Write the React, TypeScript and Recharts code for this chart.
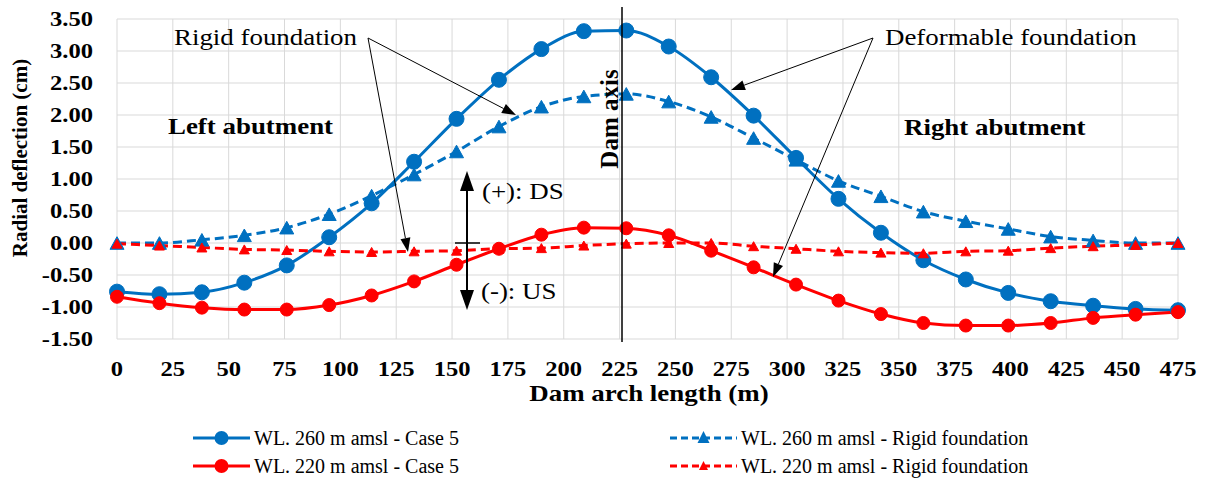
import React from "react";
import { LineChart, Line, XAxis, YAxis, CartesianGrid } from "recharts";

// arch length stations (m)
const ARCH_LENGTH = [0, 19, 38, 57, 76, 95, 114, 133, 152, 171, 190, 209, 228, 247, 266, 285, 304, 323, 342, 361, 380, 399, 418, 437, 456, 475];
// radial deflection (cm)
const WL260_CASE5 = [-0.76, -0.8, -0.77, -0.62, -0.35, 0.09, 0.62, 1.27, 1.94, 2.55, 3.03, 3.31, 3.32, 3.07, 2.59, 1.99, 1.33, 0.69, 0.16, -0.27, -0.57, -0.78, -0.91, -0.98, -1.03, -1.05];
const WL260_RIGID = [0.0, 0.0, 0.05, 0.12, 0.24, 0.45, 0.74, 1.07, 1.43, 1.82, 2.13, 2.29, 2.33, 2.21, 1.97, 1.64, 1.3, 0.97, 0.73, 0.49, 0.34, 0.22, 0.1, 0.04, 0.0, 0.0];
const WL220_CASE5 = [-0.84, -0.94, -1.01, -1.04, -1.04, -0.97, -0.82, -0.6, -0.34, -0.09, 0.13, 0.24, 0.23, 0.12, -0.12, -0.38, -0.65, -0.9, -1.11, -1.25, -1.29, -1.29, -1.25, -1.17, -1.12, -1.08];
const WL220_RIGID = [-0.01, -0.04, -0.07, -0.1, -0.11, -0.13, -0.14, -0.13, -0.12, -0.09, -0.08, -0.04, -0.01, 0.0, 0.0, -0.05, -0.09, -0.13, -0.15, -0.16, -0.13, -0.12, -0.08, -0.05, -0.03, 0.0];

const X_TICKS = [0, 25, 50, 75, 100, 125, 150, 175, 200, 225, 250, 275, 300, 325, 350, 375, 400, 425, 450, 475];
const Y_TICKS = [-1.5, -1.0, -0.5, 0.0, 0.5, 1.0, 1.5, 2.0, 2.5, 3.0, 3.5];

const SERIES_NAMES = [
  "WL. 260 m amsl - Case 5",
  "WL. 260 m amsl - Rigid foundation",
  "WL. 220 m amsl - Case 5",
  "WL. 220 m amsl - Rigid foundation",
];

const BLUE = "#0070C0";
const RED = "#FF0000";
const FONT = "'Liberation Serif', 'Times New Roman', serif";

const data = ARCH_LENGTH.map((x, i) => ({
  x,
  b5: WL260_CASE5[i],
  br: WL260_RIGID[i],
  r5: WL220_CASE5[i],
  rr: WL220_RIGID[i],
}));

const circleDot = (color: string, r: number) => (p: any) => (
  <circle key={`c-${color}-${p.index}`} cx={p.cx} cy={p.cy} r={r} fill={color} stroke={color} />
);

const triDot = (color: string, w: number) => (p: any) => {
  const h = w * 0.9;
  const pts = `${p.cx},${p.cy - h / 2} ${p.cx + w / 2},${p.cy + h / 2} ${p.cx - w / 2},${p.cy + h / 2}`;
  return <polygon key={`t-${color}-${p.index}`} points={pts} fill={color} stroke={color} strokeWidth={1} />;
};

const XTick = ({ x, y, payload }: any) => (
  <text x={x} y={y + 37} textAnchor="middle" className="sx" fontFamily={FONT} fontSize={21} fontWeight="bold" fill="#000">
    {payload.value}
  </text>
);

const YTick = ({ x, y, payload }: any) => (
  <text x={x - 24} y={y + 7} textAnchor="end" className="sxr" fontFamily={FONT} fontSize={21} fontWeight="bold" fill="#000">
    {Number(payload.value).toFixed(2)}
  </text>
);

// arrow line with filled head at (x2, y2)
function Arrow({ x1, y1, x2, y2, len = 14, half = 5, sw = 1 }: any) {
  const a = Math.atan2(y2 - y1, x2 - x1);
  const bx = x2 - len * Math.cos(a);
  const by = y2 - len * Math.sin(a);
  const px = -Math.sin(a) * half;
  const py = Math.cos(a) * half;
  return (
    <g>
      <line x1={x1} y1={y1} x2={bx} y2={by} stroke="#000" strokeWidth={sw} />
      <polygon points={`${x2},${y2} ${bx + px},${by + py} ${bx - px},${by - py}`} fill="#000" />
    </g>
  );
}

function LegendItem({ left, top, name, color, dashed, tri }: any) {
  const w = dashed ? 67 : 57;
  const big = tri === "big";
  return (
    <div style={{ position: "absolute", left, top: top - 14, height: 28, display: "flex", alignItems: "center", whiteSpace: "nowrap" }}>
      <svg width={w} height={28}>
        <line x1={0} y1={14} x2={w} y2={14} stroke={color} strokeWidth={3} strokeDasharray={dashed ? "7 4" : undefined} />
        {tri ? (
          <polygon points={`${w / 2},${big ? 7 : 9} ${w / 2 + (big ? 6 : 4.5)},${big ? 19 : 18} ${w / 2 - (big ? 6 : 4.5)},${big ? 19 : 18}`} fill={color} />
        ) : (
          <circle cx={w / 2} cy={14} r={7} fill={color} />
        )}
      </svg>
      <span style={{ fontFamily: FONT, fontSize: 20, lineHeight: "28px", marginLeft: 4, color: "#000" }}>{name}</span>
    </div>
  );
}

export default function App() {
  return (
    <div style={{ position: "absolute", left: 0, top: 0, width: 1206, height: 479, background: "#fff" }}>
      <style>{`
        .sx { transform-box: fill-box; transform-origin: 50% 50%; transform: scaleX(1.17); }
        .sxr { transform-box: fill-box; transform-origin: 100% 50%; transform: scaleX(1.17); }
        .sxl { transform-box: fill-box; transform-origin: 0% 50%; transform: scaleX(1.17); }
      `}</style>
      <LineChart width={1206} height={479} data={data} margin={{ top: 19, right: 28, left: 0, bottom: 0 }}>
        <CartesianGrid stroke="#D9D9D9" strokeWidth={1} />
        <XAxis
          type="number"
          dataKey="x"
          domain={[0, 475]}
          ticks={X_TICKS}
          height={140}
          axisLine={false}
          tickLine={false}
          tickSize={0}
          tickMargin={0}
          tick={<XTick />}
          interval={0}
        />
        <YAxis
          type="number"
          domain={[-1.5, 3.5]}
          ticks={Y_TICKS}
          width={117}
          axisLine={false}
          tickLine={false}
          tickSize={0}
          tickMargin={0}
          tick={<YTick />}
          interval={0}
        />
        <Line type="monotone" dataKey="b5" name={SERIES_NAMES[0]} stroke={BLUE} strokeWidth={3} dot={circleDot(BLUE, 7.5)} isAnimationActive={false} />
        <Line type="monotone" dataKey="br" name={SERIES_NAMES[1]} stroke={BLUE} strokeWidth={3} strokeDasharray="9 5" dot={triDot(BLUE, 14)} isAnimationActive={false} />
        <Line type="monotone" dataKey="r5" name={SERIES_NAMES[2]} stroke={RED} strokeWidth={3} dot={circleDot(RED, 6.5)} isAnimationActive={false} />
        <Line type="monotone" dataKey="rr" name={SERIES_NAMES[3]} stroke={RED} strokeWidth={3} strokeDasharray="9 5" dot={triDot(RED, 10)} isAnimationActive={false} />
      </LineChart>

      <svg width={1206} height={479} style={{ position: "absolute", left: 0, top: 0, pointerEvents: "none" }} fontFamily={FONT}>
        {/* axis titles */}
        <text transform="translate(27,158) rotate(-90)" textAnchor="middle" fontSize={21} fontWeight="bold">Radial deflection (cm)</text>
        <text x={649} y={401} textAnchor="middle" className="sx" fontSize={23} fontWeight="bold">Dam arch length (m)</text>

        {/* dam axis */}
        <line x1={622} y1={7} x2={622} y2={342} stroke="#000" strokeWidth={1.5} />
        <text transform="translate(618,119) rotate(-90)" textAnchor="middle" fontSize={25} fontWeight="bold">Dam axis</text>

        {/* abutments */}
        <text x={168} y={134} className="sxl" fontSize={23} fontWeight="bold">Left abutment</text>
        <text x={904} y={135} className="sxl" fontSize={23} fontWeight="bold">Right abutment</text>

        {/* callouts */}
        <text x={174} y={45} className="sxl" fontSize={23}>Rigid foundation</text>
        <Arrow x1={368} y1={38} x2={516} y2={115} />
        <Arrow x1={368} y1={38} x2={408} y2={252} />
        <text x={885} y={45} className="sxl" fontSize={23}>Deformable foundation</text>
        <Arrow x1={873} y1={38} x2={731} y2={90} />
        <Arrow x1={873} y1={38} x2={773} y2={277} />

        {/* sign convention */}
        <Arrow x1={467} y1={243} x2={467} y2={171} len={20} half={7} sw={2} />
        <Arrow x1={467} y1={243} x2={467} y2={310} len={20} half={7} sw={2} />
        <line x1={455} y1={243} x2={480} y2={243} stroke="#000" strokeWidth={1.5} />
        <text x={482} y={199} className="sxl" fontSize={23}>(+): DS</text>
        <text x={481} y={299} className="sxl" fontSize={23}>(-): US</text>
      </svg>

      <LegendItem left={193} top={438} name={SERIES_NAMES[0]} color={BLUE} />
      <LegendItem left={670} top={438} name={SERIES_NAMES[1]} color={BLUE} dashed tri="big" />
      <LegendItem left={193} top={466} name={SERIES_NAMES[2]} color={RED} />
      <LegendItem left={670} top={466} name={SERIES_NAMES[3]} color={RED} dashed tri="small" />
    </div>
  );
}
